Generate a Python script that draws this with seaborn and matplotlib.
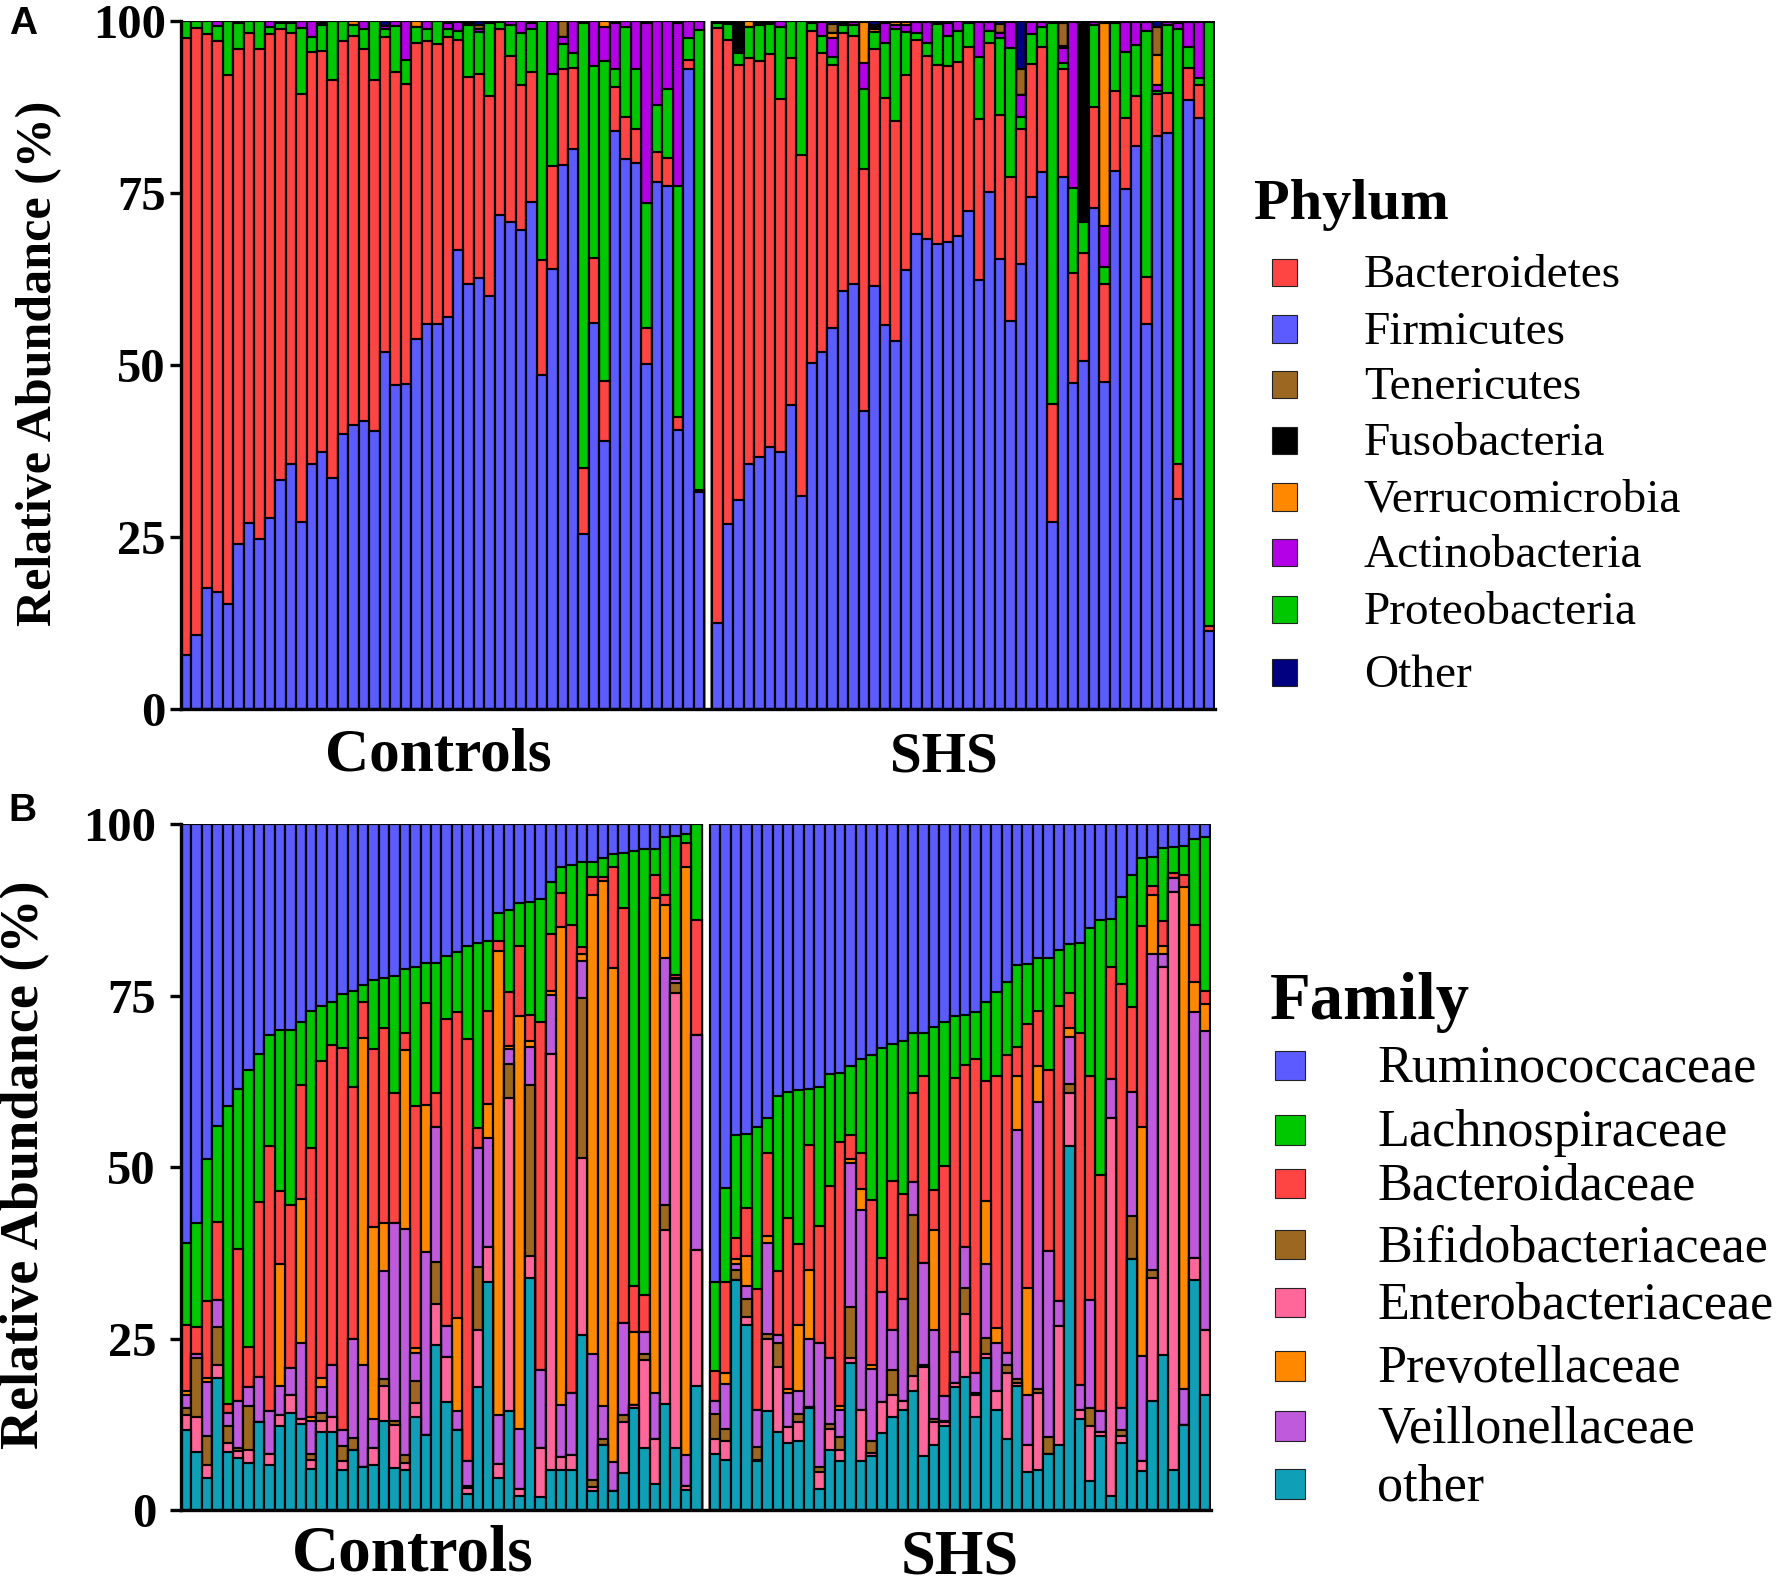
import numpy as np
import pandas as pd
import matplotlib
matplotlib.use("Agg")
import matplotlib.pyplot as plt
from matplotlib.patches import Rectangle
import seaborn as sns

# ---------- Panel A: cumulative tops (%), Firmicutes at the bottom ----------
a_ctrl_firm = [7.85,10.75,17.6,17,15.2,24,27,24.7,27.8,33.2,35.6,27.2,35.6,37.3,33.6,39.9,41.2,41.8,40.4,51.8,47,47.2,53.8,55.9,55.9,56.9,66.6,61.7,62.6,60,71.8,70.7,69.5,73.6,48.5,63.9,79,81.3,25.4,56.1,38.9,84,79.9,79.3,50.1,76.5,75.9,40.5,92.9,31.5]
a_ctrl_bact = [97.4,98.9,98,97,92.1,95.9,98.2,95.9,98,98.8,98.2,89.3,95.4,95.6,91.4,97,97.8,95.9,91.4,97.6,92.5,90.8,96.8,97,96.6,97.6,97.2,91.8,92.3,89,98.7,94.9,90.6,92.5,65.2,78.8,92.9,93.1,35,65.5,47.7,90.4,86,84.2,55.3,80.9,80.1,42.4,94.3,31.8]
a_ctrl_prot = [100,100,100,99.2,100,99.6,100,100,99.1,99.6,99.6,98.9,97.6,99.4,100,100,99.4,98.8,100,98.8,99.2,94.3,99.1,98.8,100,98.8,98.5,99.3,98.3,99.7,99.8,99.4,98.2,98.8,100,92.3,96.6,95.3,99.6,93.4,94.1,93,99.1,93,73.5,87.7,90,76,97.4,98.6]
a_ctrl_acti = [100,100,100,100,100,99.6,100,100,100,99.6,99.6,100,100,99.6,100,100,99.4,100,100,99.2,100,100,99.1,100,100,99.7,99.8,99.3,98.7,99.7,99.8,100,100,99.6,100,100,97.6,100,99.6,100,99.1,99.6,100,100,99.6,100,100,99.7,100,100]
a_ctrl_verr = [0,0,0,0,0,0,0,0,0,0,0,0,0,0.4,0,0,0.5,0,0,0,0,0,0.9,0,0,0,0,0,0,0,0,0,0,0,0,0,0,0,0,0,0.9,0,0,0,0,0,0,0,0,0]
a_ctrl_fuso = [0]*50
a_ctrl_tene = [0,0,0,0,0,0,0,0,0,0,0,0,0,0,0,0,0,0,0,0,0,0,0,0,0,0,0,0.3,0.7,0,0,0,0,0,0,0,2.4,0,0,0,0,0,0,0,0,0,0,0,0,0]

a_shs_firm = [12.5,26.8,30.4,35.6,36.6,38.1,37.4,44.2,30.9,50.3,51.8,55.4,60.7,61.8,43.3,61.5,55.8,53.5,63.8,69,68.3,67.5,67.9,68.7,72.4,62.3,75.1,65.4,56.4,64.6,74.3,78,27.1,77.2,47.4,50.5,72.8,47.5,78.1,75.5,81.7,55.9,83.2,83.6,30.5,88.4,85.9,11.3]
a_shs_bact = [98.9,97.2,93.5,94.5,94.1,95.1,88.6,94.5,80.5,98.5,95.3,93.5,98.2,97.8,78.4,95.9,88.7,85.4,92.1,97.2,94.9,93.5,93.4,94,96.2,85.7,96.8,86.3,77.2,84.3,93.7,96.2,44.3,92.9,63.3,66.2,87.4,61.7,89.8,85.8,89,62.8,89.3,89.4,35.6,93.1,90.6,12.1]
a_shs_prot = [99.7,99.5,95.3,99.1,99.4,99.5,99.1,100,100,99.6,97.8,94.7,99.3,99.3,90,98.3,96.8,98.7,98.3,98.2,96.8,99.5,97.8,98.5,99.7,94.7,98.5,97.4,96,86,98,99.1,99.6,93.8,75.6,70.8,99.3,64.2,99.7,95.4,96.4,98.5,89.7,99.4,98.8,96.2,91.7,99.8]
a_shs_acti = [99.7,99.8,95.3,99.1,99.7,99.8,99.9,100,100,99.6,99.8,97.5,99.3,99.8,93.8,98.3,99.6,99.4,99.3,99.8,99.8,99.8,99.6,100,99.7,99.8,99.8,98.2,99.8,89.2,99.8,99.8,99.6,96,99.8,70.8,99.8,70.1,99.7,99.8,99.8,99.8,90.7,99.8,99.6,99.8,99.8,99.8]
a_shs_verr = [0,0,0,0.8,0,0,0,0,0,0,0,0.7,0,0,6,0.4,0,0.4,0.5,0,0,0,0,0,0,0,0,0,0,0,0,0,0,0,0,0,0,29.5,0,0,0,0,4.3,0,0,0,0,0]
a_shs_fuso = [0.1,0,4.7,0,0,0,0,0,0,0,0,0,0.5,0,0,0.3,0,0,0,0,0,0,0,0,0,0,0,0,0,0,0,0,0,0.3,0,29.2,0,0,0,0,0,0,0,0,0,0,0,0]
a_shs_tene = [0,0,0,0,0,0,0,0,0,0,0,1.3,0,0,0,0.4,0,0,0,0,0,0,0,0,0,0,0,1.3,0,3.7,0,0,0,3.4,0,0,0,0,0,0,0,0,4,0,0,0,0,0]

# ---------- Panel B: cumulative tops (%), "other" at the bottom ----------
b_ctrl_othe = [11.6,8.4,4.6,19.2,8.5,7.6,6.9,12.9,6.5,12.3,14.1,12.5,6,11.3,11.3,5.9,8.8,6.3,6.5,13,6.1,5.9,13.6,10.9,24.1,15.7,11.6,2.4,18,33.3,4.6,14.5,2.1,33.8,1.9,5.9,5.8,5.9,25.5,2.7,9.5,2.7,5.4,14.9,9.1,3.8,15.4,9.1,2.9,18.1]
b_ctrl_ente = [13.8,13.6,6.5,21.2,9.8,8.6,8.8,12.9,8.1,13.8,16.8,13.3,7.3,13,13.5,7.1,8.8,6.3,9.1,18.1,12.4,6.9,15.6,10.9,30,22.3,11.6,3.2,26.2,38.4,6.7,60,3,37,9.1,66.5,7.7,8,51.3,3.4,9.5,2.7,12.8,15.3,21.9,10.4,40.8,75.3,3.5,37.9]
b_ctrl_bifi = [14.8,22.2,10.8,26.7,12.3,9.1,15.1,12.9,8.1,13.8,16.8,13.3,8.2,14.1,13.5,9.4,10.5,6.3,9.1,19.1,13,8,18.8,10.9,36.1,22.3,11.6,3.5,35.4,38.4,6.7,65,3,62,9.1,66.5,7.7,8,74.7,4.4,10.3,2.7,13.8,15.3,22.7,10.4,44.4,76.8,3.5,37.9]
b_ctrl_veil = [16.8,22.7,18.7,30.6,14.2,15.9,17.9,19.4,14.4,18.1,20.7,24.4,13,17.9,21.1,11.6,24.9,21.1,13.3,34.8,41.9,40.9,22.9,37.6,55.8,26.8,14.5,7.1,52.8,54.3,13.8,67.2,11.8,67.5,20.4,75.1,15.3,17.1,80,22.7,15.2,7,27.2,15.3,25.9,17.1,80.4,77.4,8,69.3]
b_ctrl_prev = [17.4,22.7,19.2,30.6,14.2,15.9,17.9,19.4,14.4,35.9,20.7,45.4,13.5,19.2,21.1,11.6,24.9,68.8,41.3,41.9,41.9,67,23.6,59.1,55.8,26.8,28,7.1,52.8,59.2,81.5,67.7,72,68.3,20.4,75.7,85,17.1,81,89.7,91.7,79,27.2,25.9,25.9,89.2,88.2,77.6,93.7,69.3]
b_ctrl_bact = [27,26.7,30.4,42,15.4,38.1,23.8,44.9,53.1,46.5,44.4,61.9,52.8,65.4,67.8,67.3,61.7,74.1,67.2,70.3,60.8,69.6,58.9,73.9,60.8,71.6,72.6,68.7,55.7,72.8,83,75.5,82.2,72.2,71.2,83.9,90,85.3,82,92.3,92.3,93.8,87.8,32.6,31.4,92.5,89.7,78,97.2,86]
b_ctrl_lach = [38.9,41.9,51.2,56,58.9,61.4,64.1,66.5,69.3,70,70,71.2,72.8,73.5,74,75.2,75.7,76.6,77.3,77.5,77.8,78.8,79.1,79.8,79.8,80.8,81.3,82.2,82.7,82.9,87,87.5,88.5,88.7,89,91.5,93.8,94,94.5,94.5,95,95.6,95.8,96,96.3,96.3,98.1,98.3,98.6,100]

b_shs_othe = [8.2,7.3,33.6,26.9,7.1,14.5,11.3,9.7,10,14.8,3,8.7,7.1,21.4,7.1,7.9,11.2,13.6,14.6,17.4,7.8,9.5,12.2,17.9,19.4,13.6,22.1,14.6,10.4,18.1,5.6,5.9,8.2,9.5,53,13.2,4.2,10.8,2.1,9.8,36.6,5.7,15.9,22.6,5.9,12.4,33.6,16.8]
b_shs_ente = [10.3,10,33.6,28.1,7.3,25,20.8,12.1,12.8,15,5.6,11.8,8.7,22.2,14.6,8.3,15.8,16.8,15.9,19.5,20.8,12.8,12.8,18.5,28.5,16.7,22.8,17.4,19.9,18.5,9.5,17.1,8.2,26.8,60.8,14.6,12.2,11.4,57.1,10.8,36.6,7.2,33.8,79.2,90.1,12.4,36.8,26.3]
b_shs_bifi = [14,11.8,35,30.7,9.2,25.6,24.3,12.1,14,15,6.2,12.6,10.6,29.6,14.6,10.1,15.8,20.4,15.9,43,21.2,13.3,13,18.5,32.3,17.1,25.1,17.4,21.1,19.1,9.5,17.6,10.6,26.8,62.1,14.6,14.9,11.4,57.1,11.6,42.9,7.2,35,79.2,90.1,12.4,36.8,26.3]
b_shs_veil = [15.9,18.3,35.9,32.6,14.6,38.9,25.5,17.1,17.4,25,24.3,22.2,14.6,50.6,43.7,20.6,31.8,26.3,30.8,47.8,36,26.3,16.6,23.1,38.4,19.9,35.9,24.3,22.9,55.4,16.8,59.5,37.8,30.4,69,18.2,30.6,14.5,62.8,14.9,60.9,22.4,81,81,92.1,17.6,72.6,69.8]
b_shs_prev = [15.9,19.9,36.6,37,14.6,40,25.5,17.7,27,35,24.3,22.2,15.1,51.1,46.8,21.1,31.8,26.3,30.8,47.8,36,40.8,16.6,23.1,38.4,19.9,45,26.5,22.9,63.3,32.3,64.7,37.8,30.4,70.3,18.2,30.6,14.5,62.8,14.9,60.9,55.8,89.6,82.2,92.1,90.8,76.9,73.8]
b_shs_bact = [20.3,33.3,39.6,44,32.2,52,34.8,42.5,38.8,53.2,41.4,47.3,53.6,54.7,52.1,45.2,36.8,47.9,46,60.8,63.2,46.6,50.2,63,64.8,65.8,62.6,63.2,66.3,67.5,70.9,72.8,64.1,73.5,75.3,69.6,63.2,48.9,79.2,76.7,73.3,85.1,91,85.8,92.9,92.5,85.3,75.7]
b_shs_lach = [33.3,47,54.7,54.8,55.9,57.2,60.3,61,61.2,61.4,61.7,63.5,63.7,64.7,65.8,66.3,67.3,67.9,68.3,69.5,69.6,70.4,71.2,72,72.2,72.6,74.1,75.5,76.9,79.4,79.6,80.4,80.4,81.7,82.5,82.7,84.9,86,86.2,89.4,92.5,95,95.2,96.5,96.6,96.8,97.8,98.1]

tick_values = [0, 25, 50, 75, 100]
phylum_names = ["Bacteroidetes","Firmicutes","Tenericutes","Fusobacteria","Verrucomicrobia","Actinobacteria","Proteobacteria","Other"]
phylum_colors = ["#FF4444","#5B5BFF","#9C6720","#000000","#FF8800","#B400E6","#00C800","#000080"]
family_names = ["Ruminococcaceae","Lachnospiraceae","Bacteroidaceae","Bifidobacteriaceae","Enterobacteriaceae","Prevotellaceae","Veillonellaceae","other"]
family_colors = ["#5B5BFF","#00C800","#FF4444","#9C6720","#FF6699","#FF8800","#C05ADC","#0FA0B8"]

W, H = 1779, 1587
S = 1779 / 1568  # layout notes below are measured on a 1568 px wide view
sns.set_theme(style="ticks")
plt.rcParams["font.family"] = ["Liberation Serif", "DejaVu Serif"]
fig = plt.figure(figsize=(W / 100, H / 100), dpi=100, facecolor="white")


def make_axes(left, right, top, bottom):
    return fig.add_axes([left / W, 1 - bottom / H, (right - left) / W, (bottom - top) / H])


def stacked(ax, xs, tops, colors):
    # tallest layer first, each lower layer painted over it
    for top, col in zip(tops, colors):
        df = pd.DataFrame({"x": xs, "top": top})
        sns.barplot(data=df, x="x", y="top", native_scale=True, color=col, saturation=1,
                    width=1.0, edgecolor="black", linewidth=1.55, errorbar=None, ax=ax, zorder=2)


def finish(ax, xlim, size, pad):
    ax.set_xlim(*xlim)
    ax.set_ylim(0, 100)
    ax.set_xticks([])
    ax.set_yticks(tick_values)
    ax.set_xlabel("")
    ax.set_ylabel("")
    ax.tick_params(axis="y", length=8, width=2.4, color="black", labelsize=size, pad=pad)
    for lab in ax.get_yticklabels():
        lab.set_fontweight("bold")
        lab.set_color("black")
    for s in ("top", "right"):
        ax.spines[s].set_visible(False)
    for s in ("left", "bottom"):
        ax.spines[s].set_linewidth(2.4)
        ax.spines[s].set_color("black")
        ax.spines[s].set_zorder(5)


def ftext(x, y, s, **kw):
    fig.text(x * S / W, 1 - y * S / H, s, va="center", color="black", **kw)


def legend(names, colors, ys, sw_x, sw_w, sw_h, tx, size):
    for n, c, y in zip(names, colors, ys):
        fig.add_artist(Rectangle((sw_x * S / W, 1 - (y + sw_h / 2) * S / H), sw_w * S / W, sw_h * S / H,
                                 transform=fig.transFigure, facecolor=c, edgecolor="#222222", linewidth=0.8))
        ftext(tx, y + 3, n, ha="left", fontsize=size)


# ---------- Panel A ----------
axA = make_axes(181, 1215, 20.5, 709)
xA0 = np.arange(50, dtype=float)
xA1 = 50.8 + np.arange(48, dtype=float)
x_a = np.concatenate([xA0, xA1])
f = np.array(a_ctrl_firm + a_shs_firm)
b = np.array(a_ctrl_bact + a_shs_bact)
p = np.array(a_ctrl_prot + a_shs_prot)
ac = np.array(a_ctrl_acti + a_shs_acti)
v = np.minimum(ac + np.array(a_ctrl_verr + a_shs_verr), 100)
k = np.minimum(v + np.array(a_ctrl_fuso + a_shs_fuso), 100)
t = np.minimum(k + np.array(a_ctrl_tene + a_shs_tene), 100)
o = np.full_like(f, 100.0)
stacked(axA, x_a, [o, t, k, v, ac, p, b, f],
        [phylum_colors[7], phylum_colors[2], phylum_colors[3], phylum_colors[4],
         phylum_colors[5], phylum_colors[6], phylum_colors[0], phylum_colors[1]])
finish(axA, (-0.5, 98.35), 35, 3)

# ---------- Panel B ----------
axB = make_axes(181, 1211, 824, 1510)
xB0 = np.arange(50, dtype=float)
xB1 = 50.8 + np.arange(48, dtype=float)
x_b = np.concatenate([xB0, xB1])
tops_b = [np.full(98, 100.0)] + [np.array(c + d) for c, d in [
    (b_ctrl_lach, b_shs_lach), (b_ctrl_bact, b_shs_bact), (b_ctrl_prev, b_shs_prev),
    (b_ctrl_veil, b_shs_veil), (b_ctrl_bifi, b_shs_bifi), (b_ctrl_ente, b_shs_ente),
    (b_ctrl_othe, b_shs_othe)]]
cols_b = [family_colors[0], family_colors[1], family_colors[2], family_colors[5],
          family_colors[6], family_colors[3], family_colors[4], family_colors[7]]
stacked(axB, x_b, tops_b, cols_b)
finish(axB, (-0.5, 98.4), 35, 10)

# ---------- Text ----------
sans = ["Liberation Sans", "DejaVu Sans"]
ftext(20, 21, "A", ha="center", family=sans, fontweight="bold", fontsize=28)
ftext(20, 715, "B", ha="center", family=sans, fontweight="bold", fontsize=28)
ftext(34, 320, "Relative Abundance (%)", ha="center", rotation=90, rotation_mode="anchor",
      fontweight="bold", fontsize=36)
ftext(22, 1027, "Relative Abundance (%)", ha="center", rotation=90, rotation_mode="anchor",
      fontweight="bold", fontsize=39)
ftext(386, 666, "Controls", ha="center", fontweight="bold", fontsize=44)
ftext(832, 668, "SHS", ha="center", fontweight="bold", fontsize=41)
ftext(364, 1370, "Controls", ha="center", fontweight="bold", fontsize=47)
ftext(846, 1374, "SHS", ha="center", fontweight="bold", fontsize=45)
ftext(1105, 181, "Phylum", ha="left", fontweight="bold", fontsize=42)
ftext(1119, 884, "Family", ha="left", fontweight="bold", fontsize=48)
legend(phylum_names, phylum_colors, [240, 290, 339, 388, 438, 487, 537, 593], 1121, 22, 24, 1202, 34)
legend(family_names, family_colors, [939, 996, 1043, 1097, 1148, 1204, 1257, 1308], 1124, 26, 26, 1214, 37.5)

fig.savefig("out.png", dpi=100, facecolor="white")
